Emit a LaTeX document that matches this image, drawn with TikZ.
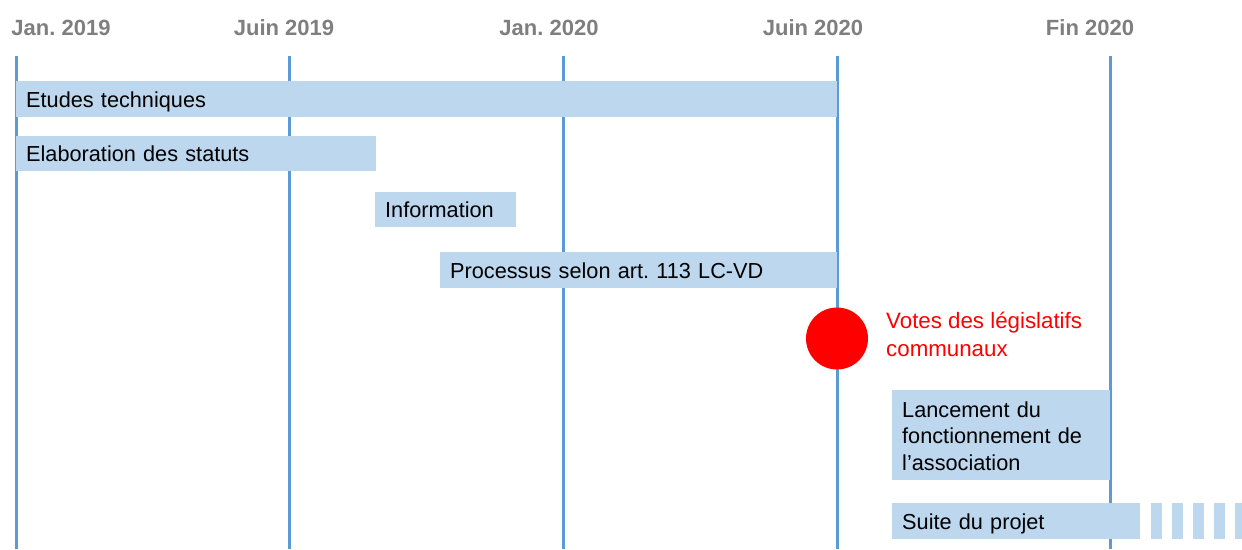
\documentclass[tikz,border=0pt]{standalone}
\usepackage{fontspec}
\setmainfont{Liberation Sans}
\definecolor{gridblue}{HTML}{5B9BD5}
\definecolor{barblue}{HTML}{BDD7EE}
\definecolor{headgray}{HTML}{7F7F7F}
\definecolor{votered}{HTML}{FF0000}
\frenchspacing
\begin{document}
\begin{tikzpicture}[x=1pt,y=-1pt,
  gridline/.style={draw=gridblue,line width=3pt},
  header/.style={anchor=base,text=headgray,font=\fontsize{22}{26}\selectfont\bfseries\frenchspacing,inner sep=0pt},
  phase/.style={fill=barblue,anchor=north west,inner xsep=10pt,inner ysep=0pt,
    text depth=0pt,align=left,font=\fontsize{21.7}{26.5}\selectfont\frenchspacing},
]
\clip (0,0) rectangle (1242,549);
\fill[white] (0,0) rectangle (1242,549);

% time axis: month labels and grid lines
\node[header] (h1) at (61,35) {Jan. 2019};
\node[header] (h2) at (284,35) {Juin 2019};
\node[header] (h3) at (549,35) {Jan. 2020};
\node[header] (h4) at (813,35) {Juin 2020};
\node[header] (h5) at (1090,35) {Fin 2020};
\foreach \n/\x in {1/16,2/289,3/563,4/837,5/1110}{
  \coordinate (t\n) at (\x,56);
  \coordinate (b\n) at (\x,549);
  \draw[gridline] (t\n) -- (b\n);
}

% phases
\node[phase,text width=801pt,minimum height=36pt] (p1) at (16,81) {Etudes techniques};
\node[phase,text width=340pt,minimum height=35pt] (p2) at (16,136) {Elaboration des statuts};
\node[phase,text width=121pt,minimum height=35pt] (p3) at (375,192) {Information};
\node[phase,text width=377pt,minimum height=36pt] (p4) at (440,252) {Processus selon art. 113 LC-VD};
\node[phase,text width=198pt,minimum height=90pt,text depth=52pt] (p5) at (892,390)
  {Lancement du\\fonctionnement de\\l’association};
\node[phase,text width=228pt,minimum height=36pt] (p6) at (892,503) {Suite du projet};
\foreach \i in {0,...,4}
  \fill[barblue] ([xshift=11pt+\i*21pt]p6.north east) rectangle ++(10.5,36);

% milestone
\node[circle,fill=votered,minimum size=62pt,inner sep=0pt] (vote) at (837,338.5) {};
\node[anchor=north west,text=votered,align=left,inner sep=0pt,
  font=\fontsize{22.3}{28}\selectfont] (votetxt) at (886,312)
  {Votes des législatifs\\communaux};
\end{tikzpicture}
\end{document}
